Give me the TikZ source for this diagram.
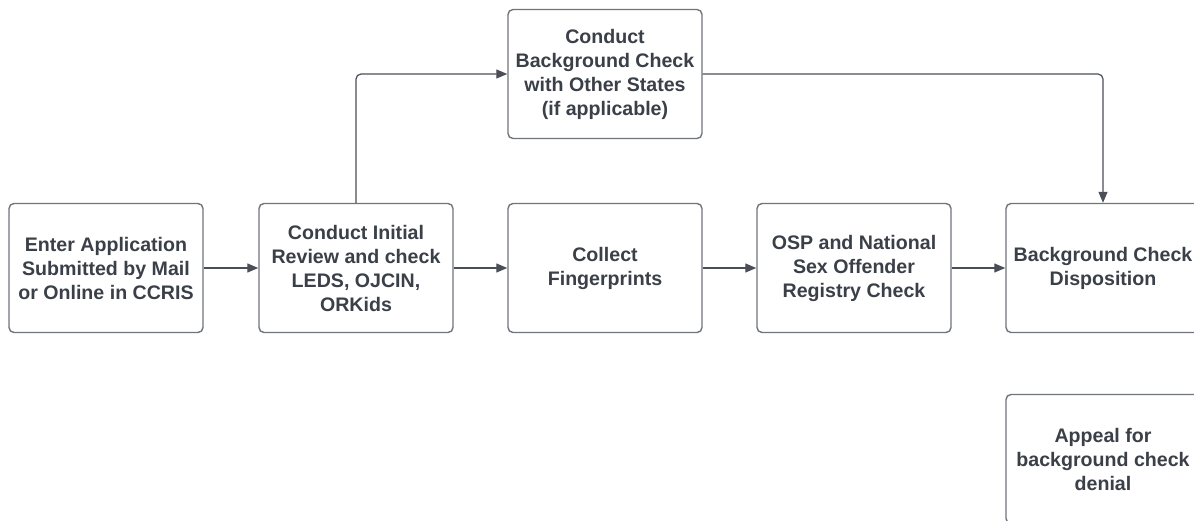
\documentclass[tikz,border=0pt]{standalone}
\usepackage{fontspec}
\setmainfont{Liberation Sans}
\usetikzlibrary{arrows.meta}
\definecolor{boxline}{HTML}{70747B}
\definecolor{txt}{HTML}{3A3F48}
\definecolor{wire}{HTML}{4A4F57}
\begin{document}
\begin{tikzpicture}[x=1pt,y=-1pt,
  stepbox/.style={draw=boxline,line width=1.4pt,rounded corners=5pt,
    minimum width=194pt,minimum height=129pt,inner sep=0pt,
    align=center,text=txt,
    font=\fontsize{19.6}{24}\selectfont\bfseries},
  flow/.style={draw=wire,line width=1.2pt,rounded corners=5pt,
    -{Triangle[length=11pt,width=9pt]}}]
\useasboundingbox (0,0) rectangle (1194,521);
\clip (0,0) rectangle (1194,521);
\fill[white] (0,0) rectangle (1194,521);

\node[stepbox] (enter) at (106,268) {Enter Application\\Submitted by Mail\\or Online in CCRIS};
\node[stepbox] (review) at (356,268) {Conduct Initial\\Review and check\\LEDS, OJCIN,\\ORKids};
\node[stepbox] (other) at (605,74) {Conduct\\Background Check\\with Other States\\(if applicable)};
\node[stepbox] (finger) at (605,268) {Collect\\Fingerprints};
\node[stepbox] (osp) at (854,268) {OSP and National\\Sex Offender\\Registry Check};
\node[stepbox] (dispo) at (1103,268) {Background Check\\Disposition};
\node[stepbox] (appeal) at (1103,459) {Appeal for\\background check\\denial};

\draw[flow] (enter) -- (review);
\draw[flow] (review) -- (finger);
\draw[flow] (finger) -- (osp);
\draw[flow] (osp) -- (dispo);
\draw[flow] (review.north) |- (other.west);
\draw[flow] (other.east) -| (dispo.north);
\end{tikzpicture}
\end{document}
